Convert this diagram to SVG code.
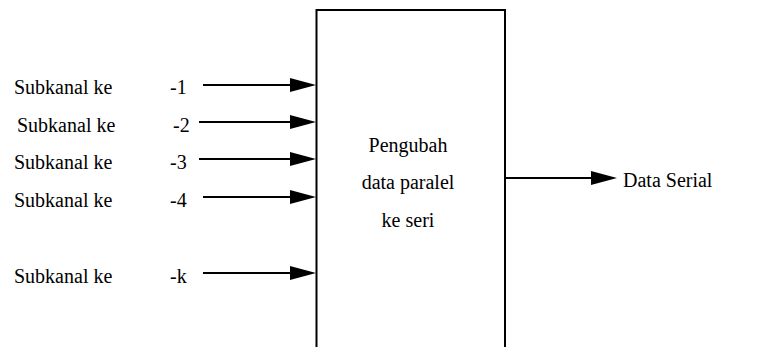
<svg xmlns="http://www.w3.org/2000/svg" width="757" height="347" viewBox="0 0 757 347">
<rect width="757" height="347" fill="#fff"/>
<g id="box">
<rect x="316.5" y="10" width="188.5" height="350" fill="#fff" stroke="#000" stroke-width="2"/>
<text x="408" y="152" text-anchor="middle" style="font:20px 'Liberation Serif', serif">Pengubah</text>
<text x="408" y="189" text-anchor="middle" style="font:20px 'Liberation Serif', serif">data paralel</text>
<text x="408" y="227" text-anchor="middle" style="font:20px 'Liberation Serif', serif">ke seri</text>
</g>
<g id="in1"><text x="14" y="94" style="font:20px 'Liberation Serif', serif">Subkanal ke</text><text x="170" y="94" style="font:20px 'Liberation Serif', serif">-1</text></g>
<g id="in2"><text x="17" y="132" style="font:20px 'Liberation Serif', serif">Subkanal ke</text><text x="173" y="132" style="font:20px 'Liberation Serif', serif">-2</text></g>
<g id="in3"><text x="14" y="169" style="font:20px 'Liberation Serif', serif">Subkanal ke</text><text x="170" y="169" style="font:20px 'Liberation Serif', serif">-3</text></g>
<g id="in4"><text x="14" y="207" style="font:20px 'Liberation Serif', serif">Subkanal ke</text><text x="170" y="207" style="font:20px 'Liberation Serif', serif">-4</text></g>
<g id="ink"><text x="14" y="283" style="font:20px 'Liberation Serif', serif">Subkanal ke</text><text x="170" y="283" style="font:20px 'Liberation Serif', serif">-k</text></g>
<g id="out"><text x="623" y="187" style="font:20px 'Liberation Serif', serif">Data Serial</text></g>
<g id="connectors" stroke="#000" stroke-width="2" fill="#000">
<line x1="203" y1="85" x2="292" y2="85"/><polygon stroke="none" points="290,78 316,85 290,92"/>
<line x1="199" y1="122" x2="292" y2="122"/><polygon stroke="none" points="290,115 316,122 290,129"/>
<line x1="199" y1="159" x2="292" y2="159"/><polygon stroke="none" points="290,152 316,159 290,166"/>
<line x1="203" y1="197" x2="292" y2="197"/><polygon stroke="none" points="290,190 316,197 290,204"/>
<line x1="203" y1="273" x2="292" y2="273"/><polygon stroke="none" points="290,266 316,273 290,280"/>
<line x1="505" y1="178" x2="593" y2="178"/><polygon stroke="none" points="591,171 617,178 591,185"/>
</g>
</svg>
